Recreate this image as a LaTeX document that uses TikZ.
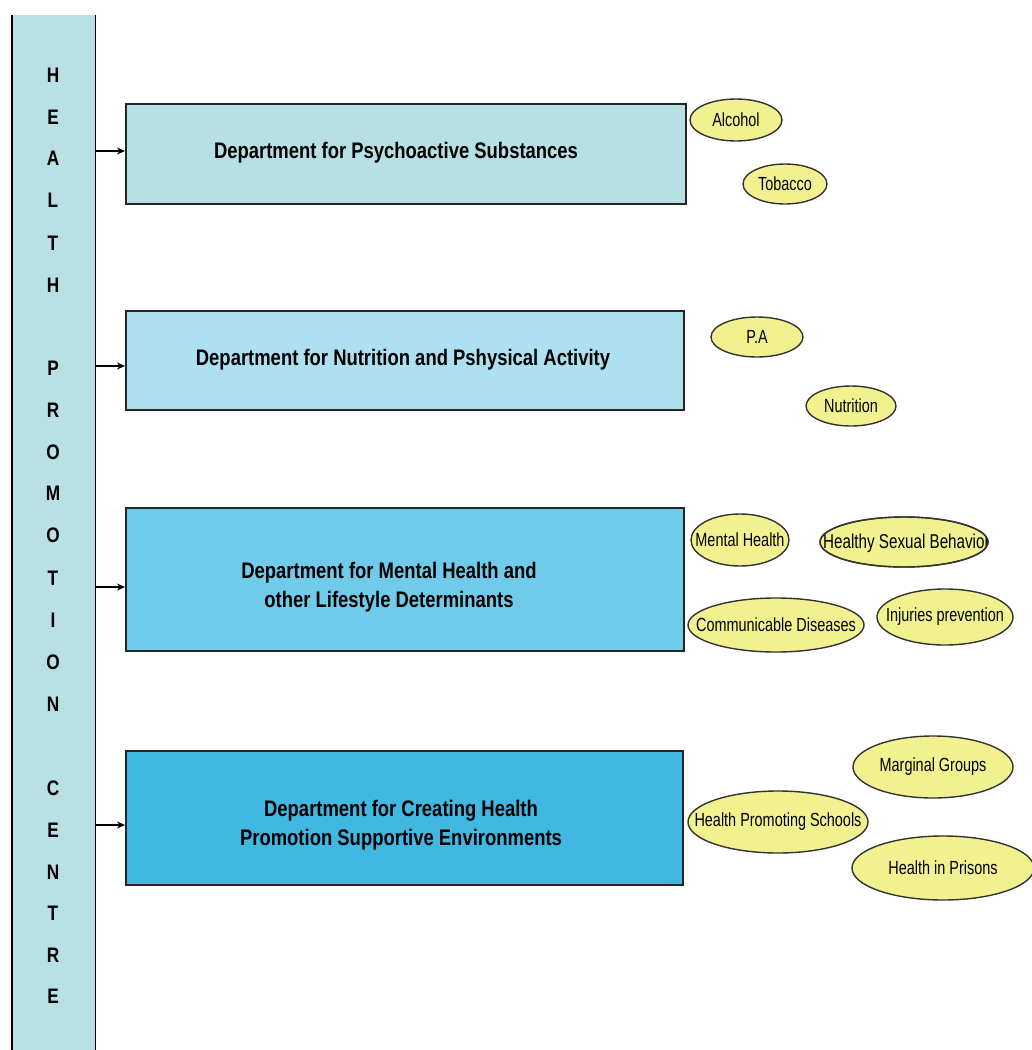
\documentclass[tikz,border=0pt]{standalone}
\usepackage{fontspec}
\setmainfont{Liberation Sans}[FakeStretch=0.82]
\newfontfamily\narrowfont{Liberation Sans}[FakeStretch=0.76]
\usetikzlibrary{shapes.geometric,arrows.meta}
\definecolor{colfill}{HTML}{B9E0E4}
\definecolor{deptA}{HTML}{B7E0E4}
\definecolor{deptB}{HTML}{ADE0F0}
\definecolor{deptC}{HTML}{70CBEA}
\definecolor{deptD}{HTML}{40B8E2}
\definecolor{topic}{HTML}{F1F28F}
% zero-width label so the ellipse keeps the size it is given
\newcommand\toplabel[1]{\makebox[0pt]{#1}}
\begin{document}
\begin{tikzpicture}[x=1pt,y=-1pt,
  dept/.style={draw=black!85,line width=1.6pt,rectangle,anchor=north west,inner sep=0pt},
  depttext/.style={align=center,font=\fontsize{22.5}{29}\selectfont\bfseries},
  topicell/.style={ellipse,draw=black!80,line width=1.4pt,fill=topic,inner sep=0pt,
    font=\narrowfont\fontsize{19}{20}\selectfont},
  feed/.style={-{Stealth[length=8pt,width=7pt]},line width=1.2pt},
  letter/.style={font=\fontsize{21}{22}\selectfont\bfseries,inner sep=0pt}]
\useasboundingbox (0,0) rectangle (1032,1050);
\fill[white] (0,0) rectangle (1032,1050);

% vertical band of the centre
\node[fill=colfill,minimum width=83pt,minimum height=1035pt,anchor=north west,inner sep=0pt]
  (col) at (12,15) {};
\draw[line width=1.6pt] (col.north west) -- (col.south west);
\draw[line width=1.6pt] (col.north east) -- (col.south east);
\foreach \ch/\yy [count=\i] in {H/75,E/117,A/158,L/200,T/243,H/285,
    P/368,R/410,O/452,M/493,O/535,T/578,I/620,O/662,N/704,
    C/788,E/830,N/872,T/913,R/955,E/996}
  \node[letter] (l\i) at (53,\yy) {\ch};

% departments
\node[dept,fill=deptA,minimum width=560pt,minimum height=100pt] (d1) at (125,103) {};
\node[depttext] (t1) at (396,153) {Department for Psychoactive Substances};
\node[dept,fill=deptB,minimum width=558pt,minimum height=99pt] (d2) at (125,310) {};
\node[depttext] (t2) at (403,360) {Department for Nutrition and Pshysical Activity};
\node[dept,fill=deptC,minimum width=558pt,minimum height=143pt] (d3) at (125,507) {};
\node[depttext] (t3) at (389,587) {Department for Mental Health and\\ other Lifestyle Determinants};
\node[dept,fill=deptD,minimum width=557pt,minimum height=134pt] (d4) at (125,750) {};
\node[depttext] (t4) at (401,825) {Department for Creating Health\\ Promotion Supportive Environments};

% links from the centre to each department
\foreach \d/\yy in {d1/151,d2/366,d3/587,d4/825}
  \draw[feed] (col.east |- 0,\yy) -- (\d.west |- 0,\yy);

% topics
\node[topicell,minimum width=92pt,minimum height=42pt] (alc) at (736,120) {\toplabel{Alcohol}};
\node[topicell,minimum width=84pt,minimum height=40pt] (tob) at (785,184) {\toplabel{Tobacco}};
\node[topicell,minimum width=92pt,minimum height=40pt] (pa) at (757,337) {\toplabel{P.A}};
\node[topicell,minimum width=90pt,minimum height=40pt] (nut) at (851,406) {\toplabel{Nutrition}};
\node[topicell,minimum width=98pt,minimum height=52pt] (mh) at (740,540) {\toplabel{Mental Health}};
\node[topicell,minimum width=168pt,minimum height=50pt] (hsb) at (904,542) {};
\begin{scope}
  \clip (hsb.center) ellipse (84pt and 25pt);
  \node[font=\narrowfont\fontsize{20}{22}\selectfont,anchor=west,inner sep=0pt] (hsbt) at (823,543) {Healthy Sexual Behavior};
\end{scope}
\draw[black!80,line width=1.4pt] (hsb.center) ellipse (84pt and 25pt);
\node[topicell,minimum width=176pt,minimum height=54pt] (cd) at (776,625) {\toplabel{Communicable Diseases}};
\node[topicell,minimum width=136pt,minimum height=56pt] (inj) at (945,617) {\toplabel{Injuries prevention}};
\node[topicell,minimum width=160pt,minimum height=62pt] (mg) at (933,767) {\toplabel{Marginal Groups}};
\node[topicell,minimum width=180pt,minimum height=62pt] (hps) at (778,822) {\toplabel{Health Promoting Schools}};
\node[topicell,minimum width=182pt,minimum height=64pt] (hip) at (943,868) {\toplabel{Health in Prisons}};
\end{tikzpicture}
\end{document}
